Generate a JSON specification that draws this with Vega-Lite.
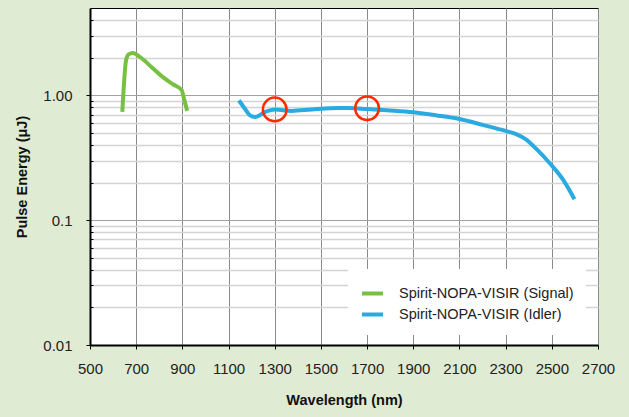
{
  "$schema": "https://vega.github.io/schema/vega-lite/v6.json",
  "autosize": {"type": "none"},
  "width": 508,
  "height": 337,
  "padding": {"left": 90, "top": 8, "right": 31, "bottom": 72},
  "background": "#e0ebd3",
  "config": {
    "view": {"fill": "white", "stroke": "black", "strokeWidth": 1},
    "font": "Liberation Sans"
  },
  "datasets": {
    "curves": [
      {"series": "Spirit-NOPA-VISIR (Signal)", "wavelength": 640, "energy": 0.735},
      {"series": "Spirit-NOPA-VISIR (Signal)", "wavelength": 656, "energy": 1.9},
      {"series": "Spirit-NOPA-VISIR (Signal)", "wavelength": 666, "energy": 2.12},
      {"series": "Spirit-NOPA-VISIR (Signal)", "wavelength": 685, "energy": 2.18},
      {"series": "Spirit-NOPA-VISIR (Signal)", "wavelength": 717, "energy": 2.02},
      {"series": "Spirit-NOPA-VISIR (Signal)", "wavelength": 767, "energy": 1.68},
      {"series": "Spirit-NOPA-VISIR (Signal)", "wavelength": 817, "energy": 1.39},
      {"series": "Spirit-NOPA-VISIR (Signal)", "wavelength": 861, "energy": 1.22},
      {"series": "Spirit-NOPA-VISIR (Signal)", "wavelength": 897, "energy": 1.1},
      {"series": "Spirit-NOPA-VISIR (Signal)", "wavelength": 907, "energy": 0.94},
      {"series": "Spirit-NOPA-VISIR (Signal)", "wavelength": 921, "energy": 0.75},
      {"series": "Spirit-NOPA-VISIR (Idler)", "wavelength": 1145, "energy": 0.91},
      {"series": "Spirit-NOPA-VISIR (Idler)", "wavelength": 1171, "energy": 0.78},
      {"series": "Spirit-NOPA-VISIR (Idler)", "wavelength": 1193, "energy": 0.69},
      {"series": "Spirit-NOPA-VISIR (Idler)", "wavelength": 1215, "energy": 0.67},
      {"series": "Spirit-NOPA-VISIR (Idler)", "wavelength": 1258, "energy": 0.735},
      {"series": "Spirit-NOPA-VISIR (Idler)", "wavelength": 1301, "energy": 0.77},
      {"series": "Spirit-NOPA-VISIR (Idler)", "wavelength": 1373, "energy": 0.75},
      {"series": "Spirit-NOPA-VISIR (Idler)", "wavelength": 1460, "energy": 0.77},
      {"series": "Spirit-NOPA-VISIR (Idler)", "wavelength": 1576, "energy": 0.79},
      {"series": "Spirit-NOPA-VISIR (Idler)", "wavelength": 1620, "energy": 0.79},
      {"series": "Spirit-NOPA-VISIR (Idler)", "wavelength": 1700, "energy": 0.775},
      {"series": "Spirit-NOPA-VISIR (Idler)", "wavelength": 1800, "energy": 0.755},
      {"series": "Spirit-NOPA-VISIR (Idler)", "wavelength": 1900, "energy": 0.73},
      {"series": "Spirit-NOPA-VISIR (Idler)", "wavelength": 2000, "energy": 0.69},
      {"series": "Spirit-NOPA-VISIR (Idler)", "wavelength": 2100, "energy": 0.645},
      {"series": "Spirit-NOPA-VISIR (Idler)", "wavelength": 2200, "energy": 0.58},
      {"series": "Spirit-NOPA-VISIR (Idler)", "wavelength": 2300, "energy": 0.518},
      {"series": "Spirit-NOPA-VISIR (Idler)", "wavelength": 2348, "energy": 0.487},
      {"series": "Spirit-NOPA-VISIR (Idler)", "wavelength": 2391, "energy": 0.44},
      {"series": "Spirit-NOPA-VISIR (Idler)", "wavelength": 2434, "energy": 0.37},
      {"series": "Spirit-NOPA-VISIR (Idler)", "wavelength": 2492, "energy": 0.284},
      {"series": "Spirit-NOPA-VISIR (Idler)", "wavelength": 2550, "energy": 0.209},
      {"series": "Spirit-NOPA-VISIR (Idler)", "wavelength": 2598, "energy": 0.147}
    ],
    "marks": [
      {"wavelength": 1300, "energy": 0.77},
      {"wavelength": 1700, "energy": 0.787}
    ]
  },
  "layer": [
    {
      "data": {"name": "curves"},
      "mark": {"type": "line", "interpolate": "monotone", "strokeWidth": 4, "strokeCap": "butt"},
      "encoding": {
        "x": {
          "field": "wavelength", "type": "quantitative",
          "scale": {"domain": [500, 2700], "nice": false, "zero": false},
          "axis": {
            "values": [500, 700, 900, 1100, 1300, 1500, 1700, 1900, 2100, 2300, 2500, 2700],
            "format": "d",
            "title": "Wavelength (nm)",
            "titleFontSize": 14.5, "titleFontWeight": "bold", "titleColor": "#111", "titlePadding": 17,
            "labelFontSize": 15, "labelColor": "#222", "labelPadding": 12, "labelFlush": false,
            "tickSize": 4, "tickColor": "black",
            "domainColor": "black", "domainWidth": 2,
            "grid": true, "gridColor": "#8a8a8a", "gridWidth": 1
          }
        },
        "y": {
          "field": "energy", "type": "quantitative",
          "scale": {"type": "log", "domain": [0.01, 5], "nice": false},
          "axis": {
            "values": [0.01, 0.02, 0.03, 0.04, 0.05, 0.06, 0.07, 0.08, 0.09, 0.1, 0.2, 0.3, 0.4, 0.5, 0.6, 0.7, 0.8, 0.9, 1, 2, 3, 4],
            "labelExpr": "datum.value == 1 ? '1.00' : (datum.value == 0.1 ? '0.1' : (datum.value == 0.01 ? '0.01' : ''))",
            "title": "Pulse Energy (μJ)",
            "titleFontSize": 14.5, "titleFontWeight": "bold", "titleColor": "#111", "titlePadding": 13,
            "labelFontSize": 15, "labelColor": "#222", "labelPadding": 14,
            "tickColor": "black",
            "tickSize": {"condition": {"test": "datum.value == 1 || datum.value == 0.1 || datum.value == 0.01", "value": 4}, "value": -3},
            "domainColor": "black", "domainWidth": 2,
            "grid": true,
            "gridColor": {"condition": {"test": "datum.value == 1 || datum.value == 0.1 || datum.value == 0.01", "value": "#a0a0a0"}, "value": "#d4d4d4"},
            "gridWidth": {"condition": {"test": "datum.value == 1 || datum.value == 0.1 || datum.value == 0.01", "value": 1}, "value": 1.5}
          }
        },
        "color": {
          "field": "series", "type": "nominal",
          "scale": {
            "domain": ["Spirit-NOPA-VISIR (Signal)", "Spirit-NOPA-VISIR (Idler)"],
            "range": ["#78c043", "#29abe2"]
          },
          "legend": {
            "orient": "none", "legendX": 258, "legendY": 261,
            "title": null,
            "fillColor": "white", "padding": 12,
            "symbolType": "stroke", "symbolStrokeWidth": 4, "symbolSize": 441,
            "labelFontSize": 14.5, "labelColor": "#222", "labelOffset": 14,
            "rowPadding": 0, "labelLimit": 300
          }
        }
      }
    },
    {
      "data": {"name": "marks"},
      "mark": {"type": "point", "shape": "circle", "filled": false, "stroke": "#ff2a00", "strokeWidth": 2.5, "size": 560, "opacity": 1},
      "encoding": {
        "x": {"field": "wavelength", "type": "quantitative"},
        "y": {"field": "energy", "type": "quantitative"}
      }
    }
  ]
}
